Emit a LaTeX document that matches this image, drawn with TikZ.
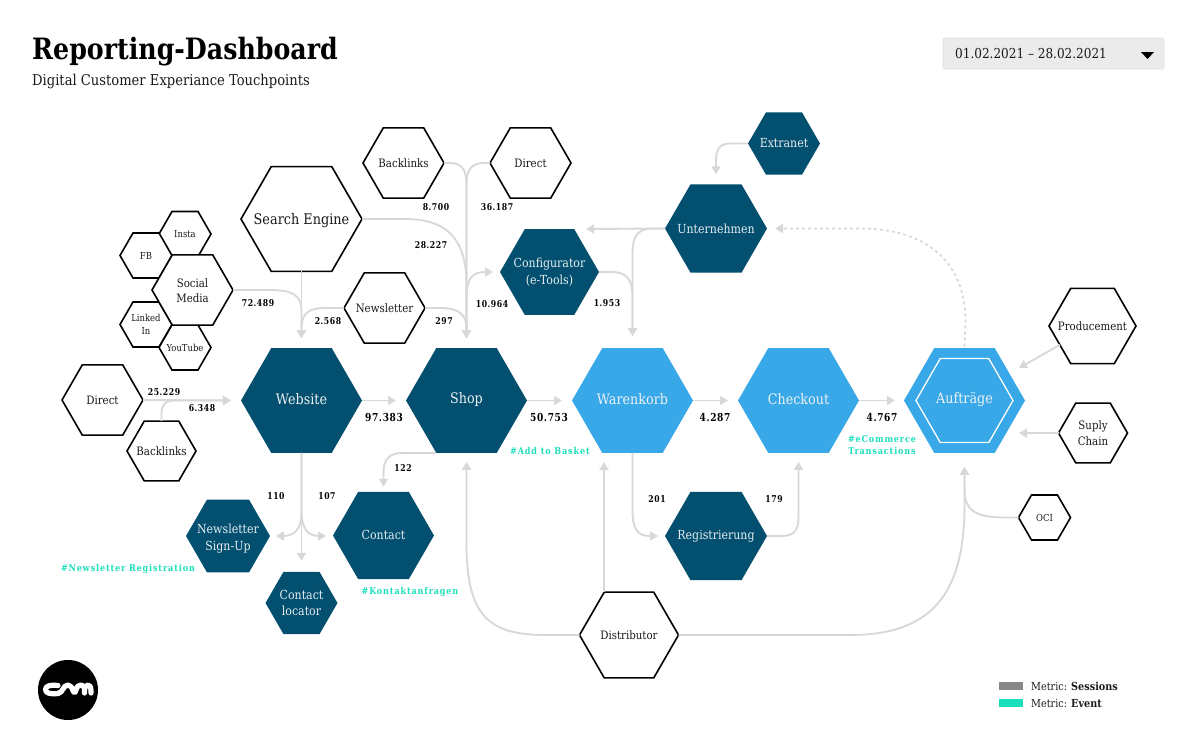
\documentclass[tikz,border=0pt]{standalone}
\usepackage{fontspec}
\setmainfont{DejaVu Serif}[FakeStretch=0.88]
\newfontfamily\numfont{DejaVu Serif}[FakeStretch=0.82,LetterSpace=6]
\newfontfamily\tagfont{DejaVu Serif}[FakeStretch=0.86,LetterSpace=9]
\newfontfamily\titlefont{DejaVu Serif}[FakeStretch=0.86]
\usetikzlibrary{shapes.geometric,arrows.meta}
\definecolor{navy}{HTML}{024F6F}
\definecolor{sky}{HTML}{38A8E8}
\definecolor{flowgray}{HTML}{D8D8D8}
\definecolor{mint}{HTML}{1CDFBB}
\definecolor{ink}{HTML}{1A1A1A}
\tikzset{
  hexbase/.style={regular polygon,regular polygon sides=6,inner sep=0pt,outer sep=0pt,minimum size=2*#1},
  hexo/.style={hexbase=#1,draw=black,line width=1.6pt,fill=white},
  hexn/.style={hexbase=#1,fill=navy},
  hexs/.style={hexbase=#1,fill=sky},
  txto/.style={text=ink,align=center,font=\fontsize{11.6}{15.5}\selectfont},
  txtosm/.style={text=ink,align=center,font=\fontsize{9.6}{13.5}\selectfont},
  txtob/.style={text=ink,align=center,yshift=-2pt,font=\fontsize{14.6}{17}\selectfont},
  txtw/.style={text=white!90!navy,align=center,font=\fontsize{12.5}{16.5}\selectfont},
  txtwb/.style={text=white!92!navy,align=center,yshift=1.5pt,font=\fontsize{14.5}{17}\selectfont},
  flow/.style={draw=flowgray,line width=1.9pt,-{Triangle[length=8pt,width=9pt]}},
  flowdash/.style={flow,draw=flowgray,dash pattern=on 3pt off 3pt,line width=1.7pt},
  num/.style={text=black,font=\numfont\bfseries\fontsize{9.4}{11}\selectfont},
  numb/.style={text=black,font=\numfont\bfseries\fontsize{11}{12}\selectfont},
  tag/.style={text=mint,align=center,font=\tagfont\bfseries\fontsize{9.4}{12}\selectfont},
  legend/.style={text=ink,anchor=west,font=\fontsize{11}{13}\selectfont}
}
\begin{document}
\begin{tikzpicture}[x=1pt,y=-1pt]
\useasboundingbox (0,0) rectangle (1200,750);
% --- free connector ends
\coordinate (cfgin) at (586,229);
\coordinate (proin) at (1019,368);
\coordinate (supin) at (1019,433);
\coordinate (ditop) at (604,592);
\coordinate (warin) at (604,453);
\coordinate (shopbl) at (436,453);
% --- outlined hexagons
\node[hexo=26,label={[txtosm]center:Insta}] (insta) at (185,234) {};
\node[hexo=26,label={[txtosm]center:FB}] (fb) at (146,255.5) {};
\node[hexo=26,label={[txtosm]center:Linked\\In}] (linked) at (146,324.5) {};
\node[hexo=26,label={[txtosm]center:YouTube}] (yt) at (185,347.5) {};
\node[hexo=40.5,label={[txto,yshift=-.5pt]center:Social\\Media}] (social) at (192.5,290) {};
\node[hexo=60.5,label={[txtob]center:Search Engine}] (search) at (301.5,219) {};
\node[hexo=40.5,label={[txto]center:Direct}] (dirl) at (102.5,400) {};
\node[hexo=34.5,label={[txto]center:Backlinks}] (backl) at (161.5,451) {};
\node[hexo=40.5,label={[txto]center:Backlinks}] (backt) at (403.5,163) {};
\node[hexo=40.5,label={[txto]center:Direct}] (dirt) at (530.5,163) {};
\node[hexo=40.5,label={[txto]center:Newsletter}] (news) at (384.5,308) {};
\node[hexo=43.5,label={[txto]center:Producement}] (prod) at (1092.5,326) {};
\node[hexo=34.5,label={[txto]center:Suply\\Chain}] (sup) at (1093,433) {};
\node[hexo=26,label={[txtosm]center:OCI}] (oci) at (1044.5,517.5) {};
\node[hexo=49.5,label={[txto]center:Distributor}] (dist) at (629,635) {};
% --- filled hexagons
\node[hexn=60.5,label={[txtwb]center:Website}] (web) at (301.5,400.5) {};
\node[hexn=60.5,label={[txtwb]center:Shop}] (shop) at (466.5,400.5) {};
\node[hexs=60.5,label={[txtwb]center:Warenkorb}] (war) at (632.5,400.5) {};
\node[hexs=60.5,label={[txtwb]center:Checkout}] (check) at (798.5,400.5) {};
\node[hexs=60.5] (auf) at (964.5,400.5) {};
\node[hexbase=48.5,draw=white,line width=1.3pt,label={[txtwb,yshift=-1pt]center:Auftr\"age}] (aufin) at (964.5,400.5) {};
\node[hexn=49.5,label={[txtw]center:Configurator\\(e-Tools)}] (config) at (549.5,272) {};
\node[hexn=51,label={[txtw]center:Unternehmen}] (unter) at (716,228.5) {};
\node[hexn=36,label={[txtw]center:Extranet}] (extra) at (784,143.5) {};
\node[hexn=42,label={[txtw,yshift=-3pt,font=\fontsize{12.5}{17}\selectfont]center:Newsletter\\Sign-Up}] (nlsign) at (228,536) {};
\node[hexn=50.5,label={[txtw,yshift=1pt]center:Contact}] (contact) at (383.5,535.5) {};
\node[hexn=36,label={[txtw]center:Contact\\locator}] (locator) at (301.5,603) {};
\node[hexn=51,label={[txtw]center:Registrierung}] (reg) at (716,536) {};
% --- connectors into Website
\draw[flow,shorten >=10pt] (search.south) -- (web.north);
\draw[flow,shorten >=10pt] (social.east) -- (268,290) .. controls (292,290) and (301.5,294) .. (301.5,312) -- (web.north);
\draw[flow,shorten >=10pt] (news.west) -- (325,308) .. controls (309,308) and (301.5,313) .. (301.5,328) -- (web.north);
\draw[flow,shorten >=10pt] (dirl.east) -- (web.west);
\draw[flow,shorten >=10pt] (backl.north) -- (161.5,414) .. controls (161.5,405) and (165,400.5) .. (175,400.5) -- (web.west);
% --- connectors into Shop
\draw[flow,shorten >=10pt] (backt.east) -- (450,163) .. controls (462,163) and (466.5,170) .. (466.5,185) -- (shop.north);
\draw[flow,shorten >=10pt] (dirt.west) -- (484,163) .. controls (471,163) and (466.5,170) .. (466.5,185) -- (shop.north);
\draw[flow,shorten >=10pt] (search.east) -- (405,219) .. controls (448,219) and (466.5,240) .. (466.5,285) -- (shop.north);
\draw[flow,shorten >=10pt] (news.east) -- (440,308) .. controls (458,308) and (466.5,314) .. (466.5,328) -- (shop.north);
% --- Shop onward
\draw[flow,shorten <=10pt,shorten >=7pt] (shop.north) -- (466.5,297) .. controls (466.5,279) and (472,272) .. (485,272) -- (config.west);
\draw[flow,shorten >=10pt] (web.east) -- (shop.west);
\draw[flow,shorten >=10pt] (shop.east) -- (war.west);
\draw[flow,shorten >=10pt] (war.east) -- (check.west);
\draw[flow,shorten >=9pt] (check.east) -- (auf.west);
\draw[flow,shorten >=5pt] (shopbl) -- (402,453) .. controls (390,453) and (383.5,459) .. (383.5,472) -- (contact.north);
% --- Configurator, Unternehmen
\draw[flow,shorten >=12pt] (config.east) -- (612,272) .. controls (627,272) and (632.5,280) .. (632.5,297) -- (war.north);
\draw[flow] (unter.west) -- (cfgin);
\draw[flow,shorten >=12pt] (unter.west) -- (653,228.5) .. controls (638,228.5) and (632.5,236) .. (632.5,253) -- (war.north);
\draw[flow,shorten >=10pt] (extra.west) -- (730,143.5) .. controls (720,143.5) and (716,149) .. (716,160) -- (unter.north);
\draw[flowdash,shorten >=8pt] (aufin.north) ++(0,-12) -- (965.5,320) .. controls (965,265) and (930,228.5) .. (860,228.5) -- (unter.east);
% --- Website down
\draw[flow,shorten >=11pt] (web.south) -- (locator.north);
\draw[flow,shorten >=6pt] (web.south) -- (301.5,510) .. controls (301.5,530) and (295,536) .. (282,536) -- (nlsign.east);
\draw[flow,shorten >=7pt] (web.south) -- (301.5,510) .. controls (301.5,530) and (308,536) .. (320,536) -- (contact.west);
% --- Warenkorb, Registrierung
\draw[flow,shorten >=7pt] (war.south) -- (632.5,510) .. controls (632.5,530) and (638,536) .. (650,536) -- (reg.west);
\draw[flow,shorten >=9pt] (reg.east) -- (782,536) .. controls (794,536) and (798.5,530) .. (798.5,518) -- (check.south);
% --- Distributor
\draw[flow,shorten >=9pt] (ditop) -- (warin);
\draw[flow,shorten >=9pt] (dist.west) -- (545,635) .. controls (488,635) and (467,615) .. (466.5,545) -- (shop.south);
\draw[flow,shorten >=14pt] (dist.east) -- (850,635) .. controls (935,635) and (964.5,590) .. (964.5,505) -- (auf.south);
% --- into Auftraege
\draw[flow] (prod.210) -- (proin);
\draw[flow] (sup.west) -- (supin);
\draw[flow,shorten >=14pt] (oci.west) -- (1005,517.5) .. controls (975,517.5) and (964.5,510) .. (964.5,490) -- (auf.south);
% --- numbers
\foreach \nm/\xx/\yy/\tx in {n1/164/392/25.229,n2/202/408/6.348,n3/258/303/72.489,n4/328/321/2.568,n5/436/207/8.700,n6/497/207/36.187,n7/431/245/28.227,n8/492/304/10.964,n9/607/303/1.953,n10/444/321/297,n11/276/496/110,n12/327/496/107,n13/403/468/122,n14/657/499/201,n15/774/499/179}
  \node[num] (\nm) at (\xx,\yy) {\tx};
\foreach \nm/\xx/\tx in {b1/384/97.383,b2/549/50.753,b3/715/4.287,b4/882/4.767}
  \node[numb] (\nm) at (\xx,417) {\tx};
% --- tags
\node[tag] (t1) at (550,451) {\#Add to Basket};
\node[tag] (t2) at (882,445) {\#eCommerce\\Transactions};
\node[tag] (t3) at (128,569) {\#Newsletter Registration};
\node[tag] (t4) at (410,592) {\#Kontaktanfragen};
% --- header
\node[anchor=base west,inner sep=0pt,text=black,font=\titlefont\bfseries\fontsize{29.4}{32}\selectfont] (title) at (32,59) {Reporting-Dashboard};
\node[anchor=base west,inner sep=0pt,text=ink,font=\fontsize{14.9}{16}\selectfont] (sub) at (32,85) {Digital Customer Experiance Touchpoints};
\node[draw=black!12,fill=black!8,rounded corners=2pt,line width=.6pt,minimum width=221pt,minimum height=31pt,inner sep=0pt] (datebox) at (1053.5,53.5) {};
\node[anchor=west,inner sep=0pt,text=ink,font=\fontsize{13.7}{16}\selectfont] (date) at (955,54) {01.02.2021 -- 28.02.2021};
\fill[black] (1141,52) -- (1154,52) -- (1147.5,59) -- cycle;
% --- logo
\fill[black] (68,690) circle (30);
\draw[white,line width=5.2pt,line cap=round,line join=round] (58,685.5) .. controls (50,684.5) and (45.5,686) .. (45.5,689.5) .. controls (45.5,693) and (50,694.5) .. (58,693.5) .. controls (63,693) and (63,685) .. (68,685) .. controls (71,685) and (72,688) .. (73,690.5) .. controls (74,693) and (75,693.5) .. (76,690) .. controls (77,686) and (79,685) .. (81.5,685) .. controls (84,685) and (84.5,687) .. (84.5,693) .. controls (84.5,686) and (86,685) .. (88,685) .. controls (90.5,685) and (91,687) .. (91,693);
% --- legend
\fill[black!47] (999,682) rectangle (1023,690);
\fill[mint] (999,699) rectangle (1023,707);
\node[legend,inner sep=0pt] (l1) at (1031,686) {Metric: \textbf{Sessions}};
\node[legend,inner sep=0pt] (l2) at (1031,703.5) {Metric: \textbf{Event}};
\end{tikzpicture}
\end{document}
